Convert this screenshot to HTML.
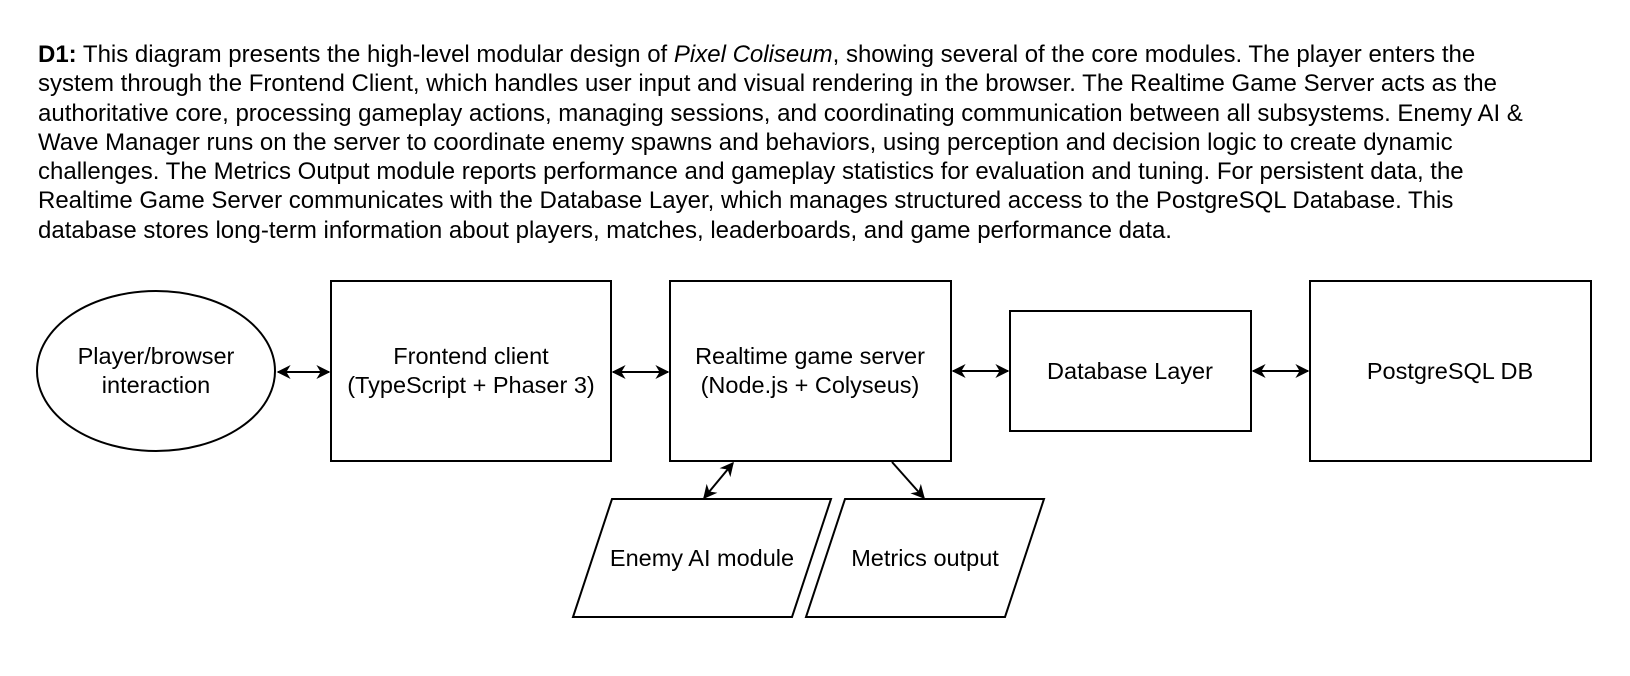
<!DOCTYPE html>
<html><head><meta charset="utf-8"><style>
body{margin:0;background:#fff;width:1630px;height:676px;overflow:hidden;font-family:"Liberation Sans",Arial,sans-serif;}
.p{position:absolute;left:38px;top:40px;font-size:24px;line-height:29.3px;white-space:nowrap;color:#000;}
svg{position:absolute;left:0;top:0;}
svg text{font-family:"Liberation Sans",Arial,sans-serif;font-size:23.5px;text-anchor:middle;fill:#000;}
</style></head><body>
<div class="p"><b>D1:</b> This diagram presents the high-level modular design of <i>Pixel Coliseum</i>, showing several of the core modules. The player enters the<br>system through the Frontend Client, which handles user input and visual rendering in the browser. The Realtime Game Server acts as the<br>authoritative core, processing gameplay actions, managing sessions, and coordinating communication between all subsystems. Enemy AI &amp;<br>Wave Manager runs on the server to coordinate enemy spawns and behaviors, using perception and decision logic to create dynamic<br>challenges. The Metrics Output module reports performance and gameplay statistics for evaluation and tuning. For persistent data, the<br>Realtime Game Server communicates with the Database Layer, which manages structured access to the PostgreSQL Database. This<br>database stores long-term information about players, matches, leaderboards, and game performance data.</div>
<svg width="1630" height="676" viewBox="0 0 1630 676">
<defs>
<marker id="a" viewBox="0 0 10 10" refX="9" refY="5" markerWidth="14" markerHeight="14" orient="auto-start-reverse" markerUnits="userSpaceOnUse" style="overflow:visible">
<path d="M0,0 L10,5 L0,10 L3,5 Z" fill="#000"/>
</marker>
</defs>
<g fill="none" stroke="#000" stroke-width="2">
<ellipse cx="156" cy="371" rx="119" ry="80" fill="#fff"/>
<rect x="331" y="281" width="280" height="180" fill="#fff"/>
<rect x="670" y="281" width="281" height="180" fill="#fff"/>
<rect x="1010" y="311" width="241" height="120" fill="#fff"/>
<rect x="1310" y="281" width="281" height="180" fill="#fff"/>
<polygon points="612,499 831,499 792,617 573,617" fill="#fff"/>
<polygon points="845,499 1044,499 1005,617 806,617" fill="#fff"/>
</g>
<g stroke="#000" stroke-width="2" fill="none">
<line x1="278" y1="372" x2="329" y2="372" marker-start="url(#a)" marker-end="url(#a)"/>
<line x1="613" y1="372" x2="668" y2="372" marker-start="url(#a)" marker-end="url(#a)"/>
<line x1="953" y1="371" x2="1008" y2="371" marker-start="url(#a)" marker-end="url(#a)"/>
<line x1="1253" y1="371" x2="1308" y2="371" marker-start="url(#a)" marker-end="url(#a)"/>
<line x1="733" y1="463" x2="704" y2="498" marker-start="url(#a)" marker-end="url(#a)"/>
<line x1="892" y1="462" x2="924" y2="498" marker-end="url(#a)"/>
</g>
<text x="156" y="364">Player/browser</text>
<text x="156" y="393">interaction</text>
<text x="471" y="364">Frontend client</text>
<text x="471" y="393">(TypeScript + Phaser 3)</text>
<text x="810" y="364">Realtime game server</text>
<text x="810" y="393">(Node.js + Colyseus)</text>
<text x="1130" y="379">Database Layer</text>
<text x="1450" y="379">PostgreSQL DB</text>
<text x="702" y="566">Enemy AI module</text>
<text x="925" y="566">Metrics output</text>
</svg>
</body></html>
